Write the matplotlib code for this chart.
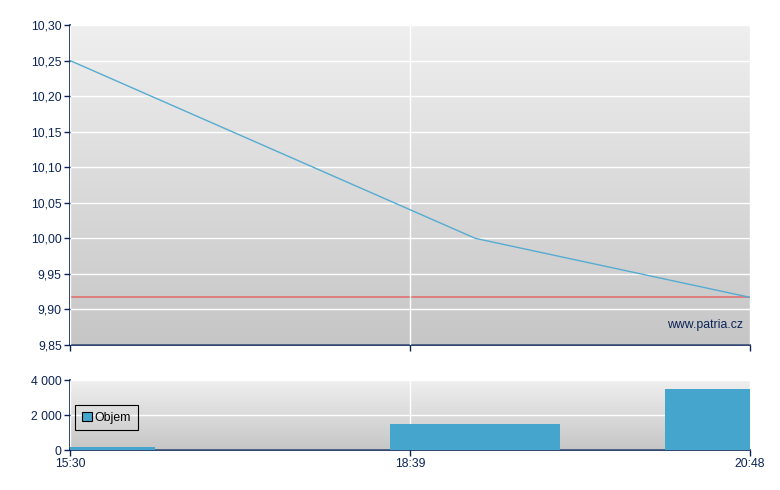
import numpy as np
import matplotlib.pyplot as plt
from matplotlib.colors import LinearSegmentedColormap
from matplotlib.ticker import FuncFormatter

# data
tick_labels = ["15:30", "18:39", "20:48"]
tick_pos = [0.0, 0.5, 1.0]
point_pos = [0.0, 0.596, 1.0]
prices = [10.25, 10.00, 9.917]
ref_price = 9.917
volume = [180, 1500, 3500]
bar_width = 0.25

navy = "#0b2456"
plt.rcParams['font.family'] = ['Liberation Sans', 'DejaVu Sans']
plt.rcParams['font.size'] = 8.8

fig = plt.figure(figsize=(7.8, 4.9), dpi=100)
ax = fig.add_axes([70/780, 1-345/490, 680/780, 320/490])
ax2 = fig.add_axes([70/780, 1-450/490, 680/780, 70/490])

# grey gradient background, spines, grid
grad = np.linspace(0, 1, 256).reshape(-1, 1)
cmap = LinearSegmentedColormap.from_list('g', ['#efefef', '#c6c6c6'])
for a in (ax, ax2):
    a.imshow(grad, extent=[0, 1, 0, 1], transform=a.transAxes, aspect='auto',
             cmap=cmap, zorder=0)
    for s in ('top', 'right'):
        a.spines[s].set_visible(False)
    for s in ('left', 'bottom'):
        a.spines[s].set_color(navy)
        a.spines[s].set_linewidth(1.2)
    a.tick_params(colors=navy, labelcolor=navy, length=4, width=1, pad=2)
    a.set_xlim(0, 1)
    a.set_xticks(tick_pos)
    a.grid(True, color='white', linewidth=1, zorder=1)
    a.set_axisbelow(False)

# price panel
ax.plot(point_pos, prices, color='#55acd2', linewidth=1, zorder=3)
ax.axhline(ref_price, color='#e07070', linewidth=1.2, zorder=2)
ax.set_ylim(9.85, 10.30)
ax.set_yticks(np.arange(9.85, 10.301, 0.05))
ax.yaxis.set_major_formatter(FuncFormatter(lambda v, p: f"{v:.2f}".replace('.', ',')))
ax.set_xticklabels([])
ax.text(0.99, 0.045, "www.patria.cz", transform=ax.transAxes, ha='right',
        va='bottom', color=navy, fontsize=8.8, zorder=4)

# volume panel
ax2.bar(point_pos, volume, width=bar_width, color='#45a5cd', zorder=3,
        label='Objem', edgecolor='none')
ax2.set_ylim(0, 4000)
ax2.set_yticks([0, 2000, 4000])
ax2.yaxis.set_major_formatter(FuncFormatter(lambda v, p: f"{int(v):,}".replace(',', ' ')))
ax2.set_xticklabels(tick_labels)
leg = ax2.legend(loc='upper left', bbox_to_anchor=(5/680, 45/70), borderaxespad=0,
                 fancybox=False, framealpha=1, edgecolor='black', facecolor='none',
                 handlelength=0.8, handleheight=0.8, borderpad=0.55, handletextpad=0.25)
leg.get_frame().set_linewidth(0.8)
leg.legend_handles[0].set_edgecolor('black')
leg.legend_handles[0].set_linewidth(0.8)
leg.set_zorder(5)

fig.savefig("out.png", dpi=100)
